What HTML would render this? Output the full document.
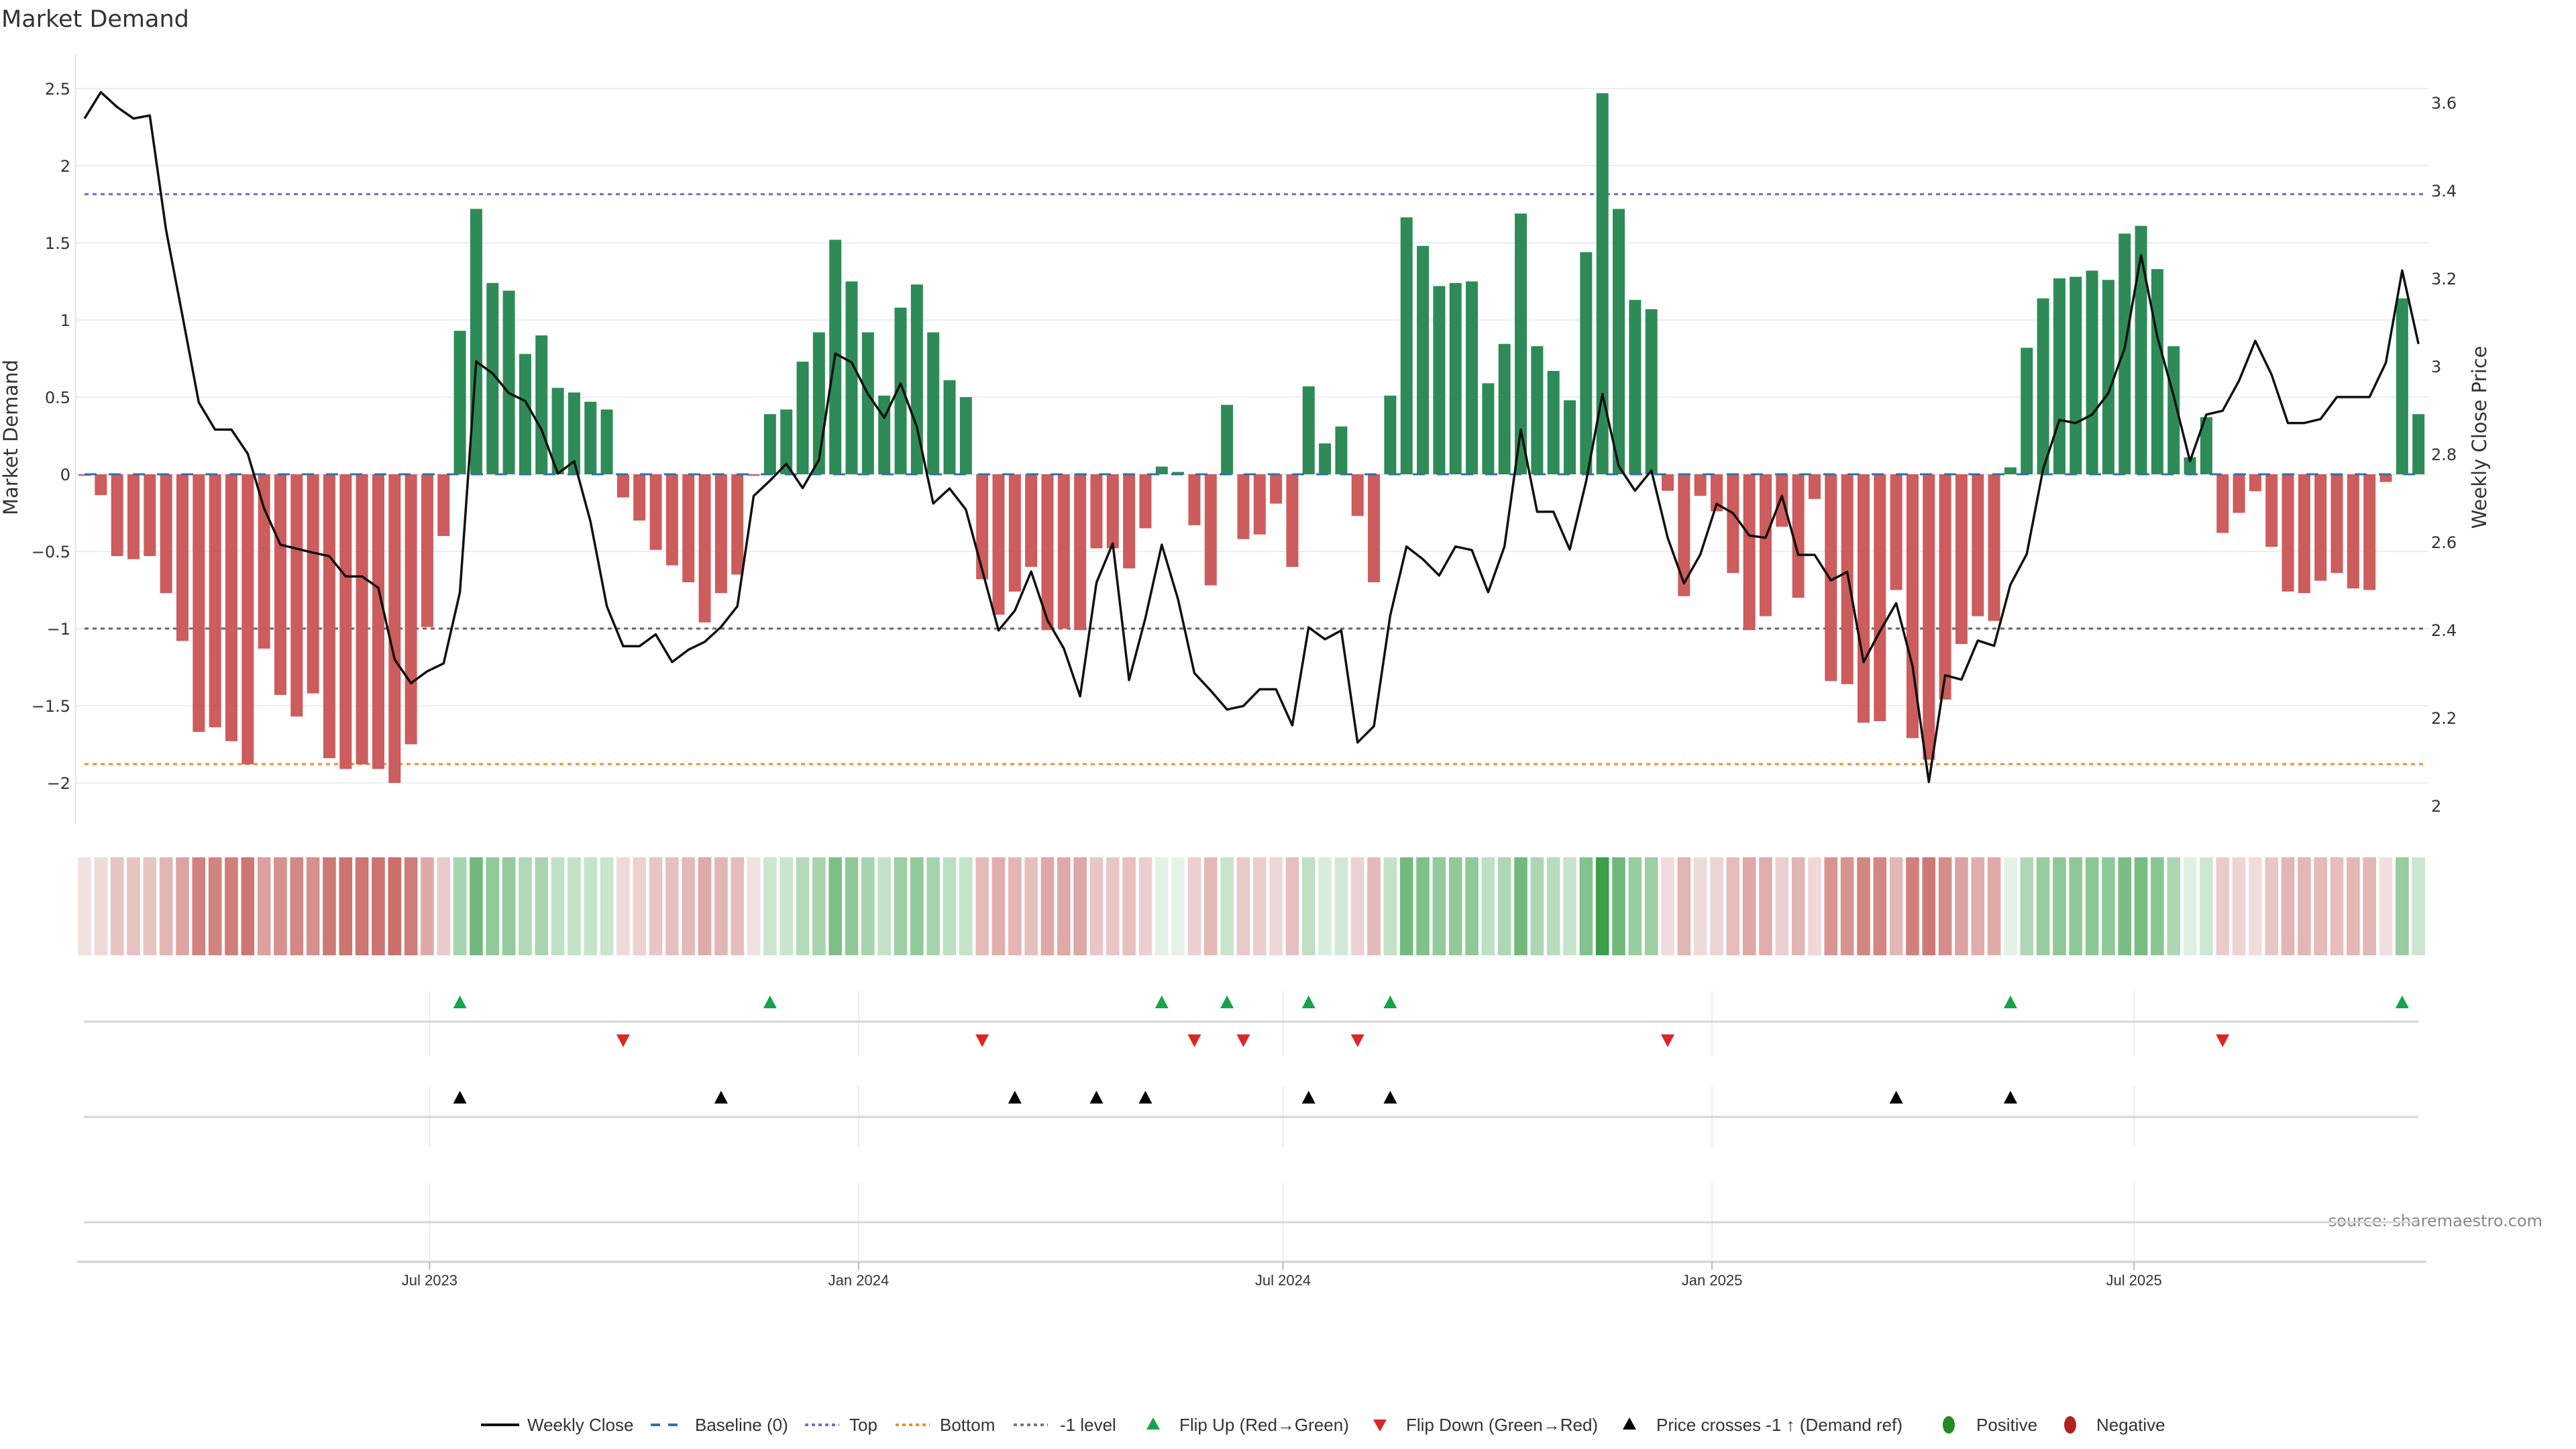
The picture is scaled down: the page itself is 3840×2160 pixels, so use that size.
<!DOCTYPE html>
<html><head><meta charset="utf-8"><style>
html,body{margin:0;padding:0;background:#fff;}
svg{display:block;font-family:"Liberation Sans","DejaVu Sans",sans-serif;}
.dv{font-family:"DejaVu Sans","Liberation Sans",sans-serif;}
</style></head><body>
<svg id="chart" width="3840" height="2160" viewBox="0 0 3840 2160" xmlns="http://www.w3.org/2000/svg">
<rect width="3840" height="2160" fill="#fff"/>
<text class="dv" x="2" y="40" font-size="35" fill="#333">Market Demand</text>
<text class="dv" x="0" y="0" font-size="29" fill="#333" text-anchor="middle" transform="translate(26,652) rotate(-90)">Market Demand</text>
<text class="dv" x="0" y="0" font-size="29" fill="#333" text-anchor="middle" transform="translate(3706,652) rotate(-90)">Weekly Close Price</text>
<text class="dv" x="3790" y="1828" font-size="24" fill="#888" text-anchor="end">source: sharemaestro.com</text>
<g id="legend" font-size="26" fill="#333">
 <g><line x1="717" y1="2124" x2="774" y2="2124" stroke="#111" stroke-width="4"/><text x="786" y="2133">Weekly Close</text></g>
 <g><line x1="970" y1="2124" x2="1021" y2="2124" stroke="#2f72a6" stroke-width="4" stroke-dasharray="14 12"/><text x="1036" y="2133">Baseline (0)</text></g>
 <g><line x1="1200" y1="2124" x2="1251" y2="2124" stroke="#7b68d0" stroke-width="4" stroke-dasharray="5 5"/><text x="1266" y="2133">Top</text></g>
 <g><line x1="1335" y1="2124" x2="1386" y2="2124" stroke="#f28a2e" stroke-width="4" stroke-dasharray="5 5"/><text x="1401" y="2133">Bottom</text></g>
 <g><line x1="1511" y1="2124" x2="1562" y2="2124" stroke="#777" stroke-width="4" stroke-dasharray="5 5"/><text x="1580" y="2133">-1 level</text></g>
 <g><polygon points="1719,2113 1729,2131 1709,2131" fill="#16a34a"/><text x="1758" y="2133">Flip Up (Red→Green)</text></g>
 <g><polygon points="2047,2116 2067,2116 2057,2134" fill="#dc2626"/><text x="2096" y="2133">Flip Down (Green→Red)</text></g>
 <g><polygon points="2429,2113 2439,2131 2419,2131" fill="#000"/><text x="2469" y="2133">Price crosses -1 ↑ (Demand ref)</text></g>
 <g><ellipse cx="2905" cy="2124" rx="9" ry="13" fill="#228b22"/><text x="2946" y="2133">Positive</text></g>
 <g><ellipse cx="3086" cy="2124" rx="9" ry="13" fill="#b22222"/><text x="3125" y="2133">Negative</text></g>
</g>
</svg>
<script>
const demand = [
-0.01,-0.135,-0.53,-0.55,-0.53,-0.77,-1.08,-1.67,-1.64,-1.73,
-1.88,-1.13,-1.43,-1.57,-1.42,-1.84,-1.91,-1.88,-1.91,-2.0,
-1.75,-0.99,-0.40,0.93,1.72,1.24,1.19,0.78,0.90,0.56,
0.53,0.47,0.42,-0.15,-0.30,-0.49,-0.59,-0.70,-0.96,-0.77,
-0.65,-0.01,0.39,0.42,0.73,0.92,1.52,1.25,0.92,0.51,
1.08,1.23,0.92,0.61,0.50,-0.68,-0.91,-0.76,-0.60,-1.01,
-1.00,-1.01,-0.48,-0.48,-0.61,-0.35,0.05,0.015,-0.33,-0.72,
0.45,-0.42,-0.39,-0.19,-0.60,0.57,0.20,0.31,-0.27,-0.70,
0.51,1.665,1.48,1.22,1.24,1.25,0.59,0.845,1.69,0.83,
0.67,0.48,1.44,2.47,1.72,1.13,1.07,-0.107,-0.79,-0.14,
-0.24,-0.64,-1.01,-0.92,-0.34,-0.80,-0.16,-1.34,-1.36,-1.61,
-1.60,-0.75,-1.71,-1.85,-1.46,-1.10,-0.92,-0.95,0.045,0.82,
1.14,1.27,1.28,1.32,1.26,1.56,1.61,1.33,0.83,0.11,
0.37,-0.38,-0.25,-0.11,-0.47,-0.76,-0.77,-0.69,-0.64,-0.74,
-0.75,-0.05,1.14,0.39];
const price = [
3.564,3.624,3.59,3.564,3.571,3.31,3.115,2.918,2.856,2.856,
2.801,2.677,2.594,2.585,2.576,2.568,2.522,2.522,2.496,2.333,
2.279,2.306,2.324,2.486,3.011,2.984,2.939,2.921,2.856,2.756,
2.784,2.647,2.454,2.363,2.363,2.39,2.327,2.355,2.373,2.407,
2.454,2.705,2.74,2.778,2.723,2.787,3.029,3.009,2.937,2.883,
2.961,2.862,2.688,2.722,2.674,2.537,2.399,2.444,2.533,2.422,
2.358,2.249,2.508,2.597,2.286,2.427,2.594,2.47,2.302,2.262,
2.219,2.227,2.265,2.265,2.183,2.406,2.379,2.399,2.144,2.181,
2.433,2.590,2.561,2.524,2.590,2.582,2.486,2.590,2.856,2.669,
2.669,2.583,2.738,2.937,2.773,2.717,2.763,2.610,2.506,2.572,
2.687,2.666,2.615,2.61,2.705,2.571,2.571,2.513,2.532,2.327,
2.397,2.461,2.318,2.054,2.297,2.287,2.376,2.364,2.503,2.573,
2.766,2.878,2.871,2.89,2.939,3.042,3.253,3.067,2.933,2.784,
2.89,2.899,2.967,3.058,2.981,2.871,2.871,2.88,2.93,2.93,
2.93,3.008,3.218,3.051];
const priceCrossIdx = [23,39,57,62,65,75,80,111,118];
const startDate = "2023-02-03";
const tickDates = ["2023-07-01","2024-01-01","2024-07-01","2025-01-01","2025-07-01"];
const tickLabels = ["Jul 2023","Jan 2024","Jul 2024","Jan 2025","Jul 2025"];
const leftTicks = [2.5,2,1.5,1,0.5,0,-0.5,-1,-1.5,-2];
const leftTickLabels = ["2.5","2","1.5","1","0.5","0","−0.5","−1","−1.5","−2"];
const rightTicks = [3.6,3.4,3.2,3.0,2.8,2.6,2.4,2.2,2.0];
const rightTickLabels = ["3.6","3.4","3.2","3","2.8","2.6","2.4","2.2","2"];
const topLevel = 1.815, bottomLevel = -1.878, minusLevel = -1;

const NS = "http://www.w3.org/2000/svg";
const svg = document.getElementById('chart');
const X0 = 126, PITCH = 24.33;
function xOf(i){ return X0 + PITCH*i; }
function xDate(d){ const days=(new Date(d)-new Date(startDate))/86400000; return X0 + PITCH*days/7; }
function yL(v){ return 707 - 230*v; }
function yR(p){ return 153.1 + (3.6-p)*655; }
const legend = document.getElementById('legend');
function add(tag, attrs){ const e=document.createElementNS(NS,tag); for(const k in attrs) e.setAttribute(k,attrs[k]); svg.insertBefore(e, legend); return e; }

leftTicks.forEach((v,k)=>{
  const g = add('line',{x1:113,x2:3621,y1:yL(v),y2:yL(v),stroke:'#eceef2','stroke-width':2});
  
  
  const t = add('text',{x:105,y:yL(v)+9,'font-size':24,fill:'#333','text-anchor':'end','class':'dv'});
  t.textContent = leftTickLabels[k];
  
  
});
rightTicks.forEach((p,k)=>{
  const t = add('text',{x:3624,y:yR(p)+9,'font-size':24,fill:'#333','class':'dv'});
  t.textContent = rightTickLabels[k];
  
  
});
const ax = add('line',{x1:113,x2:113,y1:80,y2:1228,stroke:'#e4e6ea','stroke-width':2});



[[topLevel,'#7b68d0','top-line'],[bottomLevel,'#f28a2e','bottom-line'],[minusLevel,'#666','minus1-level-line']].forEach(r=>{
  const l = add('line',{x1:X0,x2:3615,y1:yL(r[0]),y2:yL(r[0]),stroke:r[1],'stroke-width':3,'stroke-dasharray':'6 6'});
  
  
});

demand.forEach((v,i)=>{
  const y0=yL(0), y1=yL(v);
  const b = add('rect',{x:xOf(i)-9,y:Math.min(y0,y1),width:18,height:Math.max(Math.abs(y1-y0),0.5),fill:v>0?'#2e8b57':'#cd5c5c'});
  
  
});
const base = add('line',{x1:X0,x2:3615,y1:yL(0),y2:yL(0),stroke:'#2f72a6','stroke-width':3,'stroke-dasharray':'18 18'});



const pl = add('polyline',{points:price.map((p,i)=>xOf(i).toFixed(1)+','+yR(p).toFixed(1)).join(' '),fill:'none',stroke:'#111','stroke-width':3.5,'stroke-linejoin':'round'});



function mix(a,b,t){ return 'rgb('+a.map((c,k)=>Math.round(c+(b[k]-c)*t)).join(',')+')'; }
demand.forEach((v,i)=>{
  let col;
  if(v>0){ col = mix([230,244,232],[58,158,72],Math.min(v/2.5,1)); }
  else { col = mix([242,226,226],[203,111,107],Math.min(-v/2,1)); }
  const c = add('rect',{x:xOf(i)-9.8,y:1278,width:19.6,height:146,fill:col});
  
  
});

tickDates.forEach(d=>{
  const x=xDate(d);
  [[1477,1575],[1619,1709],[1763,1881]].forEach(s=>{
    const g = add('line',{x1:x,x2:x,y1:s[0],y2:s[1],stroke:'#ececec','stroke-width':2});
    
    
  });
});
[1523,1665,1822].forEach(y=>{
  const l = add('line',{x1:125,x2:3605,y1:y,y2:y,stroke:'#d6d6d6','stroke-width':3});
  
  
});
const xl = add('line',{x1:115,x2:3617,y1:1881,y2:1881,stroke:'#d0d0d0','stroke-width':3});


tickDates.forEach((d,k)=>{
  const x=xDate(d);
  const tk = add('line',{x1:x,x2:x,y1:1881,y2:1893,stroke:'#bbb','stroke-width':2});
  
  
  const t = add('text',{x:x,y:1916,'font-size':22,fill:'#333','text-anchor':'middle'});
  t.textContent = tickLabels[k];
  
  
});
function triUp(x,y,fill,name){
  const p = add('polygon',{points:`${x},${y-10} ${x+10},${y+9} ${x-10},${y+9}`,fill:fill});
  
  
}
function triDown(x,y,fill,name){
  const p = add('polygon',{points:`${x-10},${y-9} ${x+10},${y-9} ${x},${y+10}`,fill:fill});
  
  
}
for(let i=1;i<demand.length;i++){
  const pos=demand[i]>0, prev=demand[i-1]>0;
  if(pos && !prev) triUp(xOf(i),1494,'#16a34a','flip-up-marker');
  if(!pos && prev) triDown(xOf(i),1551,'#dc2626','flip-down-marker');
}
priceCrossIdx.forEach(i=>triUp(xOf(i),1636,'#000','price-cross-marker'));
</script>
</body></html>
